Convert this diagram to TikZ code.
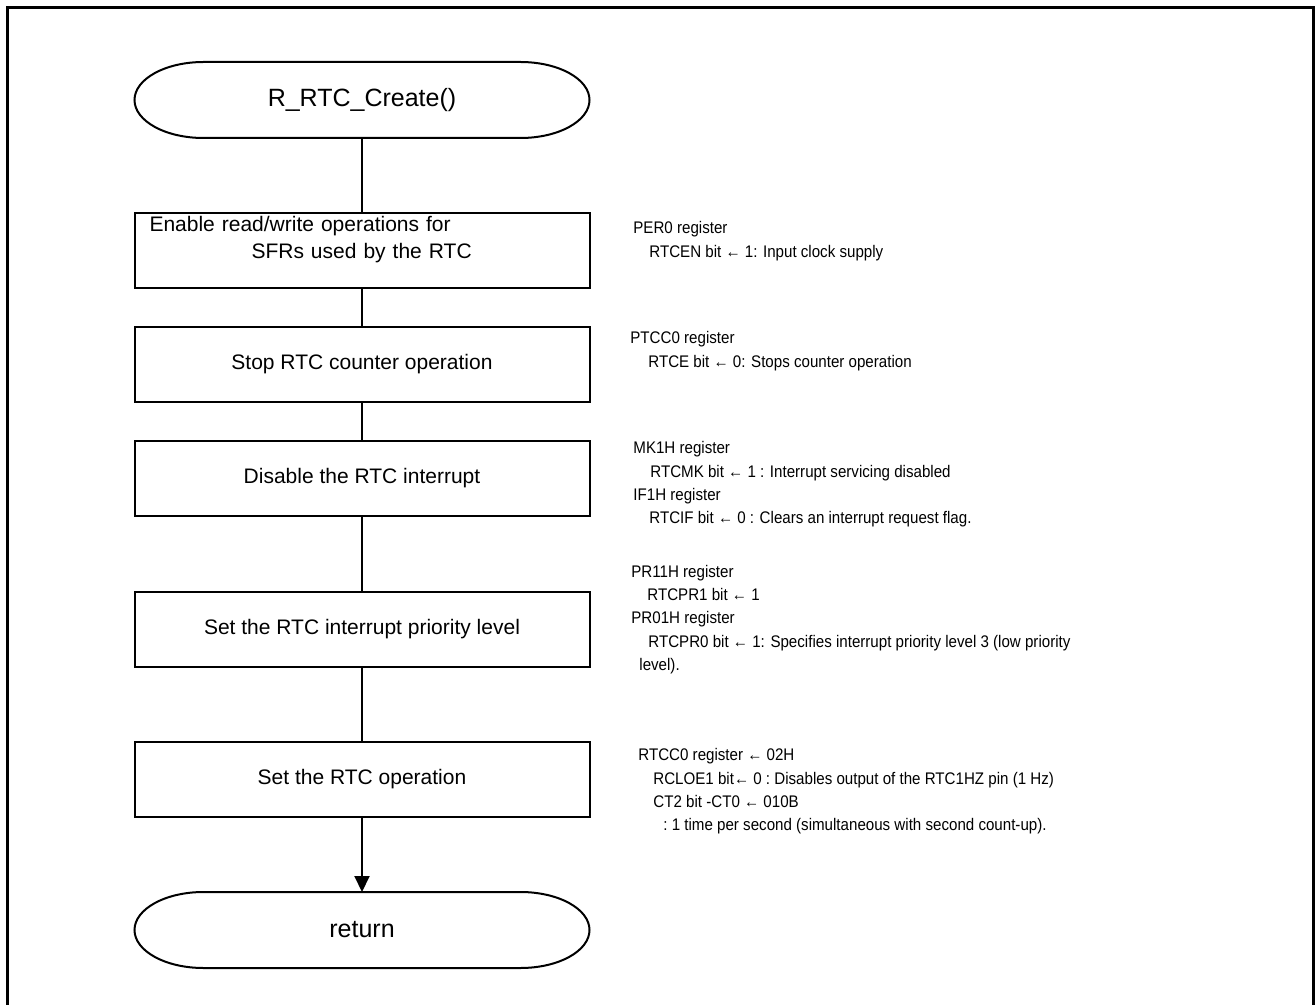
\documentclass[tikz,border=0pt]{standalone}
\usepackage{fontspec}
\setmainfont{Liberation Sans}
\newfontfamily\notefont[FakeStretch=0.9]{Liberation Sans}
\usetikzlibrary{arrows.meta, positioning}

\tikzset{
  stepbox/.style={draw, line width=1pt, minimum width=227.5pt, minimum height=37.5pt,
    outer sep=0, inner sep=0, font=\fontsize{10.5pt}{13.5pt}\selectfont},
  termnode/.style={minimum width=227.5pt, minimum height=38pt, outer sep=0, inner sep=0,
    font=\fontsize{12.5pt}{15pt}\selectfont},
  note/.style={anchor=west, inner sep=0, align=left,
    font=\notefont\fontsize{8.4pt}{11.7pt}\selectfont},
  flow/.style={line width=1pt}
}

\begin{document}
\begin{tikzpicture}[x=0.5pt, y=-0.5pt]

\useasboundingbox (0,0) rectangle (1316,1005);
\draw[line width=1.5pt] (7,1005) -- (7,8) -- (1313,8) -- (1313,1005);

\node[termnode] (start) at (362,100) {R\_RTC\_Create()};
\node[stepbox, text width=212.5pt, inner xsep=7.5pt, align=left] (enable) at (362,250.5)
  {Enable read/write operations for\\\hspace*{51pt}SFRs used by the RTC\\~};
\node[stepbox] (stopcnt) at (362,364.5) {Stop RTC counter operation};
\node[stepbox] (disint) at (362,478) {Disable the RTC interrupt};
\node[stepbox] (setprio) at (362,629) {Set the RTC interrupt priority level};
\node[stepbox] (setop) at (362,779.5) {Set the RTC operation};
\node[termnode] (ret) at (362,930) {return};

% terminal outlines
\foreach \t in {start,ret}{
  \draw[flow] ([xshift=34.5pt]\t.north west) -- ([xshift=-34.5pt]\t.north east)
    arc[start angle=90, end angle=-90, x radius=34.5pt, y radius=19pt]
    -- ([xshift=34.5pt]\t.south west)
    arc[start angle=270, end angle=90, x radius=34.5pt, y radius=19pt] -- cycle;
}

\draw[flow] (start) -- (enable);
\draw[flow] (enable) -- (stopcnt);
\draw[flow] (stopcnt) -- (disint);
\draw[flow] (disint) -- (setprio);
\draw[flow] (setprio) -- (setop);
\draw[flow, -{Triangle[length=8pt, width=7.5pt]}] (setop) -- (ret);

% register notes
\node[note] (note1) at (633,241)
  {PER0 register\\\hspace*{8pt}RTCEN bit ← 1: Input clock supply};
\node[note] (note2) at (630,351)
  {PTCC0 register\\\hspace*{9pt}RTCE bit ← 0: Stops counter operation};
\node[note] (note3) at (633,484.5)
  {MK1H register\\\hspace*{8.5pt}RTCMK bit ← 1 : Interrupt servicing disabled\\
   IF1H register\\\hspace*{8pt}RTCIF bit ← 0 : Clears an interrupt request flag.};
\node[note] (note4) at (631,619.5)
  {PR11H register\\\hspace*{8pt}RTCPR1 bit ← 1\\PR01H register\\
   \hspace*{8.5pt}RTCPR0 bit ← 1: Specifies interrupt priority level 3 (low priority\\
   \hspace*{4pt}level).};
\node[note] (note5) at (638,791.5)
  {RTCC0 register ← 02H\\\hspace*{7.5pt}RCLOE1 bit← 0 :\ Disables output of the RTC1HZ pin (1 Hz)\\
   \hspace*{7.5pt}CT2 bit -CT0 ← 010B\\
   \hspace*{12.5pt}:\ 1 time per second (simultaneous with second count-up).};

\end{tikzpicture}
\end{document}
